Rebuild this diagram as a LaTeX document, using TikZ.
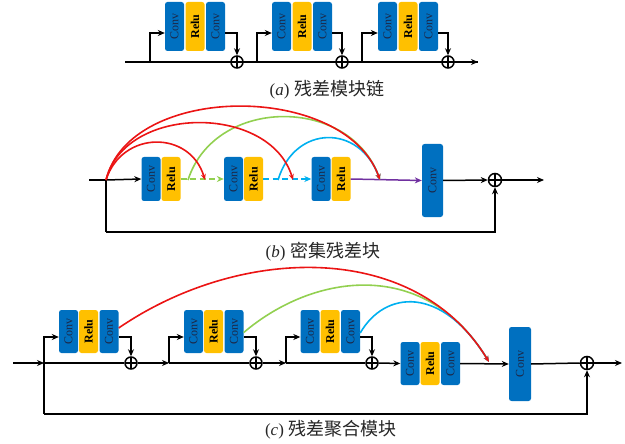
\documentclass[tikz,border=0pt]{standalone}
\usepackage{fontspec}
\setmainfont{Liberation Serif}
\newfontfamily\cjk{Noto Sans CJK SC}
\usetikzlibrary{arrows.meta}
\definecolor{convblue}{RGB}{0,112,192}
\definecolor{convtext}{RGB}{28,40,72}
\definecolor{reluyellow}{RGB}{255,192,0}
\definecolor{arcred}{RGB}{235,20,20}
\definecolor{arcgreen}{RGB}{146,208,80}
\definecolor{arcblue}{RGB}{0,176,240}
\definecolor{arcpurple}{RGB}{112,48,160}
\tikzset{
  box/.style={rounded corners=2.5pt, minimum width=19pt, inner sep=0pt, draw=none},
  conv/.style={box, fill=convblue, text=convtext, font=\fontsize{12}{12}\selectfont},
  relu/.style={box, fill=reluyellow, text=black, font=\fontsize{12}{12}\selectfont\bfseries},
  wire/.style={line width=1.5pt, black},
  arr/.style={wire, -{Stealth[length=7pt,width=6pt]}},
  oplus/.style={circle, draw, fill=white, minimum size=12pt, inner sep=0pt, line width=1.5pt,
    path picture={\draw[line width=1.5pt]
      (path picture bounding box.north) -- (path picture bounding box.south)
      (path picture bounding box.west) -- (path picture bounding box.east);}},
  arc/.style={line width=1.6pt, -{Stealth[length=6pt,width=5pt]}},
  caption/.style={font=\fontsize{17}{17}\selectfont, text=black!85},
}
\newcommand{\cv}{\rotatebox{90}{Conv}}
\newcommand{\rl}{\rotatebox{90}{Relu}}
\begin{document}
\begin{tikzpicture}[x=1pt,y=-1pt]
\useasboundingbox (0,0) rectangle (625,444);

% ---------- (a) chain of residual blocks ----------
\coordinate (a0) at (125,62);
\coordinate (ab1) at (150,62);
\coordinate (ab2) at (257,62);
\coordinate (ab3) at (362,62);
\coordinate (aend) at (478,62);
\foreach \n/\x in {1/174.5,2/281.5,3/387.5}{
  \node[conv, minimum height=49pt] (a\n c1) at (\x,26.5) {\cv};
  \node[relu, minimum height=49pt] (a\n r)  at (\x+20.5,26.5) {\rl};
  \node[conv, minimum height=49pt] (a\n c2) at (\x+41,26.5) {\cv};
}
\draw[wire] (a0) -- (aend);
\node[oplus] (ao1) at (237,62) {};
\node[oplus] (ao2) at (342,62) {};
\node[oplus] (ao3) at (448,62) {};
\draw[arr] (ao3) -- (aend);
\foreach \n in {1,2,3}{
  \draw[arr] (ab\n) |- ([yshift=-6.5pt]a\n c1.west);
  \draw[arr] ([yshift=-6.5pt]a\n c2.east) -| (ao\n.north);
}
\node[caption] (capa) at (327,90) {(\textit{a})\hspace{5pt}{\cjk\fontsize{18}{18}\selectfont 残差模块链}};

% ---------- (b) dense residual block ----------
\coordinate (b0) at (89,180);
\coordinate (bbr) at (106,180);
\coordinate (bbot) at (106,232);
\coordinate (bend) at (544,180);
\node[conv, minimum height=44pt] (b1c) at (151,179) {\cv};
\node[relu, minimum height=44pt] (b1r) at (171,179) {\rl};
\node[conv, minimum height=44pt] (b2c) at (233.5,179) {\cv};
\node[relu, minimum height=44pt] (b2r) at (253.5,179) {\rl};
\node[conv, minimum height=44pt] (b3c) at (321,179) {\cv};
\node[relu, minimum height=44pt] (b3r) at (341,179) {\rl};
\node[conv, minimum width=21pt, minimum height=73pt] (b4c) at (432.5,180.5) {\cv};
\node[oplus, minimum size=13pt] (bo) at (495,180) {};
\draw[wire] (b0) -- (bbr);
\draw[arr] (bbr) -- (b1c.west);
\draw[arr, arcgreen, dashed, dash pattern=on 6pt off 3.5pt] (b1r.east) -- (b2c.west);
\draw[arr, arcblue, dashed, dash pattern=on 6pt off 3.5pt] (b2r.east) -- (b3c.west);
\draw[arr, arcpurple] (b3r.east) -- (b4c.west);
\draw[arr] (b4c.east) -- (bo.west);
\draw[arr] (bo.east) -- (bend);
\draw[wire] (bbr) -- (bbot);
\draw[arr] (bbot) -| (bo.south);
% dense skip arcs
\coordinate (bt1) at (205,180);
\coordinate (bt2) at (293,180);
\coordinate (bt3) at (380,180);
\coordinate (bg0) at (188,180);
\coordinate (bl0) at (278,180);
\draw[arc, arcgreen] (bg0) .. controls (215,96) and (350,96) .. (bt3);
\draw[arc, arcblue] (bl0) .. controls (295,124) and (360,124) .. (bt3);
\draw[arc, arcred] (bbr) .. controls (122,130) and (190,130) .. (bt1);
\draw[arc, arcred] (bbr) .. controls (125,104) and (270,104) .. (bt2);
\draw[arc, arcred] (bbr) .. controls (130,82) and (345,82) .. (bt3);
\node[caption] (capb) at (323,252) {(\textit{b})\hspace{5pt}{\cjk\fontsize{18}{18}\selectfont 密集残差块}};

% ---------- (c) residual aggregation block ----------
\coordinate (c0) at (13,363);
\coordinate (cb1) at (44,363);
\coordinate (cb2) at (169,363);
\coordinate (cb3) at (286,363);
\coordinate (cbot) at (44,414);
\coordinate (cend) at (622,363);
\foreach \n/\x in {1/68.5,2/193.5,3/310}{
  \node[conv, minimum height=43pt] (c\n c1) at (\x,331.5) {\cv};
  \node[relu, minimum height=43pt] (c\n r)  at (\x+20,331.5) {\rl};
  \node[conv, minimum height=43pt] (c\n c2) at (\x+40.5,331.5) {\cv};
}
\node[conv, minimum height=43pt] (c4c1) at (410,363.5) {\cv};
\node[relu, minimum height=43pt] (c4r)  at (430,363.5) {\rl};
\node[conv, minimum height=43pt] (c4c2) at (450.5,363.5) {\cv};
\node[conv, minimum width=22pt, minimum height=74pt] (c5c) at (520,364) {\cv};
\node[oplus] (co1) at (131,363) {};
\node[oplus] (co2) at (256,363) {};
\node[oplus] (co3) at (372,363) {};
\node[oplus, minimum size=13pt] (co4) at (587,363) {};
\draw[arr] (c0) -- (cb1);
\draw[wire] (cb1) -- (co1.west);
\draw[arr] (co1.east) -- (cb2);
\draw[wire] (cb2) -- (co2.west);
\draw[arr] (co2.east) -- (cb3);
\draw[wire] (cb3) -- (co3.west);
\draw[arr] (co3.east) -- (c4c1.west);
\draw[arr] (c4c2.east) -- (c5c.west);
\draw[wire] (c5c.east) -- (co4.west);
\draw[arr] (co4.east) -- (cend);
\foreach \n in {1,2,3}{
  \draw[arr] (cb\n) |- ([yshift=-5.5pt]c\n c1.west);
  \draw[arr] ([yshift=-5.5pt]c\n c2.east) -| (co\n.north);
}
\draw[wire] (cb1) -- (cbot);
\draw[arr] (cbot) -| (co4.south);
% aggregation arcs
\coordinate (ct) at (489,362);
\draw[arc, arcgreen] ([yshift=-1pt]c2c2.east) .. controls (315,272) and (426,258) .. (ct);
\draw[arc, arcblue] ([yshift=-1.5pt]c3c2.east) .. controls (385,290) and (442,285) .. (ct);
\draw[arc, arcred] ([yshift=3.5pt]c1c2.east) .. controls (240,245) and (415,240) .. (ct);
\node[caption] (capc) at (331,430) {(\textit{c})\hspace{5pt}{\cjk\fontsize{18}{18}\selectfont 残差聚合模块}};
\end{tikzpicture}
\end{document}
